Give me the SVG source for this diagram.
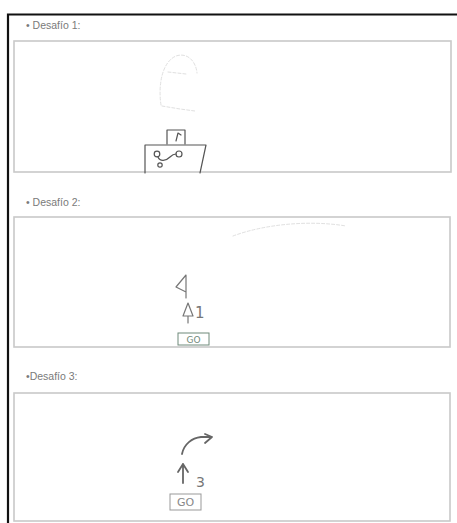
<svg xmlns="http://www.w3.org/2000/svg" width="457" height="523" viewBox="0 0 457 523">
<style>
.frame{fill:none;stroke:#111;stroke-width:2.2}
.box{fill:#fff;stroke:#c9c9c9;stroke-width:1.6}
.lbl{font-family:"Liberation Sans",Arial,sans-serif;font-size:10.5px;fill:#7a7a7a}
.ink{fill:none;stroke:#555;stroke-width:1.2;stroke-linecap:round;stroke-linejoin:round}
.faint{fill:none;stroke:#e0e0e0;stroke-width:1;stroke-linecap:round;stroke-dasharray:3 2}
.hand{font-family:"DejaVu Sans",sans-serif;fill:#777;stroke:none}
</style>
<rect width="457" height="523" fill="#fff"/>
<path class="frame" d="M8,523 V14.5 H457"/>

<g id="desafio1">
  <text class="lbl" x="26" y="29">• Desafío 1:</text>
  <rect class="box" x="14" y="41" width="437" height="131"/>
  <path class="faint" d="M161,105 C158,85 162,62 176,56 C188,52 196,62 197,73"/>
  <path class="faint" d="M162,106 L180,109 L195,111"/>
  <path class="faint" d="M168,72 L186,74"/>
  <g id="robot1">
    <path class="ink" d="M167,144 V130 H185 V144"/>
    <path class="ink" d="M176,141 L178,133 L181,135"/>
    <path class="ink" d="M145,173 V145 H206 L200,173"/>
    <circle class="ink" cx="157" cy="154" r="2.8"/>
    <circle class="ink" cx="160" cy="165" r="2.2"/>
    <circle class="ink" cx="179" cy="154" r="3"/>
    <path class="ink" d="M158,157 C160,162 166,161 170,157 C172,155 174,154 176,154"/>
  </g>
</g>

<g id="desafio2">
  <text class="lbl" x="26" y="206">• Desafío 2:</text>
  <rect class="box" x="14" y="217" width="436" height="130"/>
  <path class="faint" d="M233,236 C265,224 310,220 346,226"/>
  <g id="steps2">
    <path class="ink" style="stroke:#777" d="M186,275 L176,287 L186,292 Z M186,275 V298"/>
    <path class="ink" style="stroke:#777" d="M188,303 L183,316 H193 Z M188,316 V323"/>
    <text class="hand" x="195" y="318" font-size="15">1</text>
    <rect x="178" y="333" width="31" height="12" fill="none" stroke="#6f8a7a" stroke-width="1"/>
    <text class="hand" x="193.5" y="343" font-size="9" text-anchor="middle" style="fill:#6f8a7a">GO</text>
  </g>
</g>

<g id="desafio3">
  <text class="lbl" x="26" y="380">•Desafío 3:</text>
  <rect class="box" x="14" y="393" width="436" height="128"/>
  <g id="steps3">
    <path class="ink" style="stroke:#666;stroke-width:1.8" d="M182,454 C184,444 192,438 201,437 L212,437 M205,434 L212,437 L205,443"/>
    <path class="ink" style="stroke:#666;stroke-width:1.8" d="M183,483 V464 M178,472 L183,464 L188,472"/>
    <text class="hand" x="196" y="487" font-size="14">3</text>
    <rect x="170" y="494" width="31" height="16" fill="none" stroke="#999" stroke-width="1"/>
    <text class="hand" x="185.5" y="506" font-size="11" text-anchor="middle" style="fill:#888">GO</text>
  </g>
</g>
</svg>
